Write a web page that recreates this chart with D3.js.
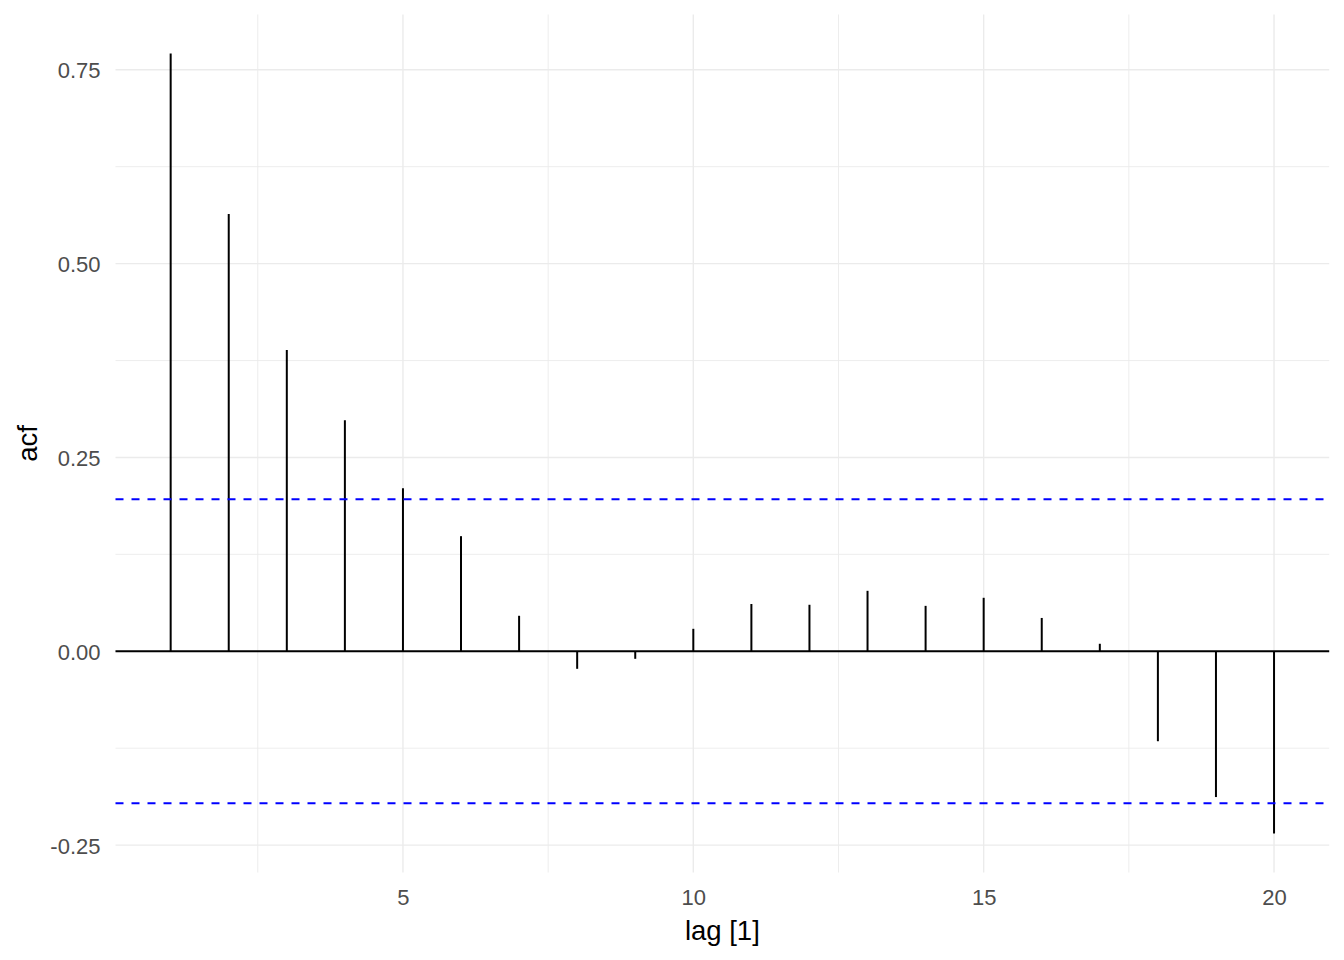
<!DOCTYPE html>
<html><head><meta charset="utf-8">
<script src="https://cdn.jsdelivr.net/npm/d3@7"></script>
<style>body{margin:0;background:#fff}svg{display:block}</style>
</head><body><svg id="c" width="1344" height="960"></svg>
<script>
const lags = [1,2,3,4,5,6,7,8,9,10,11,12,13,14,15,16,17,18,19,20];
const acf = [0.771,0.564,0.3885,0.298,0.2103,0.1485,0.0458,-0.0226,-0.0097,0.029,0.061,0.060,0.078,0.0586,0.069,0.043,0.0097,-0.116,-0.188,-0.235];
const ciBound = 0.196;
const xTicks = [5,10,15,20];
const xMinor = [2.5,7.5,12.5,17.5];
const yTicks = [-0.25,0,0.25,0.5,0.75];
const yMinor = [-0.125,0.125,0.375,0.625];

const FONT = "Liberation Sans, Arial, sans-serif";
const svg = d3.select("#c");
const L=115.5, R=1329.2, T=14.5, B=872.5;
const xr = 19*0.05;
const x = d3.scaleLinear().domain([1-xr,20+xr]).range([L,R]);
const yMin=d3.min(acf), yMax=d3.max(acf), yr=(yMax-yMin)*0.05;
const y = d3.scaleLinear().domain([yMin-yr,yMax+yr]).range([B,T]);

const g = svg.append("g");
// minor grid
g.selectAll(".ymin").data(yMinor).join("line").attr("x1",L).attr("x2",R)
 .attr("y1",d=>y(d)).attr("y2",d=>y(d)).attr("stroke","#ebebeb").attr("stroke-width",0.9);
g.selectAll(".xmin").data(xMinor).join("line").attr("y1",T).attr("y2",B)
 .attr("x1",d=>x(d)).attr("x2",d=>x(d)).attr("stroke","#ebebeb").attr("stroke-width",0.9);
// major grid
g.selectAll(".ymaj").data(yTicks).join("line").attr("x1",L).attr("x2",R)
 .attr("y1",d=>y(d)).attr("y2",d=>y(d)).attr("stroke","#ebebeb").attr("stroke-width",1.4);
g.selectAll(".xmaj").data(xTicks).join("line").attr("y1",T).attr("y2",B)
 .attr("x1",d=>x(d)).attr("x2",d=>x(d)).attr("stroke","#ebebeb").attr("stroke-width",1.4);

// zero line
g.append("line").attr("x1",L).attr("x2",R).attr("y1",y(0)).attr("y2",y(0))
 .attr("stroke","#000").attr("stroke-width",2);
// segments
g.selectAll(".seg").data(lags).join("line")
 .attr("x1",d=>x(d)).attr("x2",d=>x(d)).attr("y1",y(0)).attr("y2",(d,i)=>y(acf[i]))
 .attr("stroke","#000").attr("stroke-width",2);
// CI lines
[ciBound,-ciBound].forEach(v=>{
  g.append("line").attr("x1",L).attr("x2",R).attr("y1",y(v)).attr("y2",y(v))
   .attr("stroke","#0000ff").attr("stroke-width",2).attr("stroke-dasharray","8,8");
});

// y axis labels
const yAxis = d3.axisLeft(y).tickValues(yTicks).tickFormat(d=>d3.format(".2f")(d).replace("\u2212","-")).tickSize(0).tickPadding(0);
const ya = svg.append("g").attr("transform",`translate(${L-15},0)`).call(yAxis);
ya.select(".domain").remove();
ya.attr("font-size",null).attr("font-family",null);
ya.selectAll("text").style("font-family",FONT).style("font-size","22px").attr("fill","#4d4d4d").attr("dy","0.36em");
// x axis labels
const xAxis = d3.axisBottom(x).tickValues(xTicks).tickSize(0).tickPadding(0);
const xa = svg.append("g").attr("transform",`translate(0,${905})`).call(xAxis);
xa.select(".domain").remove();
xa.attr("font-size",null).attr("font-family",null);
xa.selectAll("text").style("font-family",FONT).style("font-size","22px").attr("fill","#4d4d4d").attr("dy",0).attr("y",0);

// titles
svg.append("text").attr("x",(L+R)/2).attr("y",940).attr("text-anchor","middle")
 .style("font-family",FONT).style("font-size","27.5px").attr("fill","#000").text("lag [1]");
svg.append("text").attr("transform",`translate(37,${(T+B)/2}) rotate(-90)`).attr("text-anchor","middle")
 .style("font-family",FONT).style("font-size","27.5px").attr("fill","#000").text("acf");
</script></body></html>
